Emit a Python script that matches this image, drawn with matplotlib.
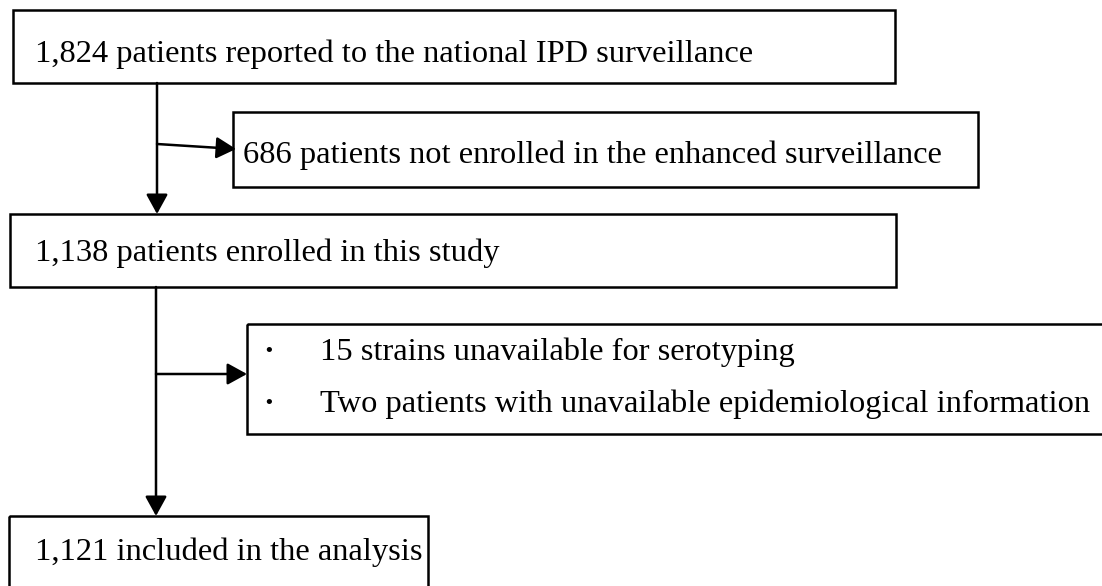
import matplotlib.pyplot as plt
from matplotlib.patches import Rectangle

# Flowchart labels
main_steps = ['1,824 patients reported to the national IPD surveillance',
              '1,138 patients enrolled in this study',
              '1,121 included in the analysis']
excluded_1 = '686 patients not enrolled in the enhanced surveillance'
excluded_2 = ['15 strains unavailable for serotyping',
              'Two patients with unavailable epidemiological information']

plt.rcParams['font.family'] = ['Liberation Serif', 'DejaVu Serif']

fig = plt.figure(figsize=(11.02, 5.86), dpi=100)
ax = fig.add_axes([0, 0, 1, 1])
ax.set_xlim(0, 1102)
ax.set_ylim(586, 0)
ax.axis('off')

lw = 1.8
fs = 23.4

def box(x0, y0, x1, y1):
    ax.add_patch(Rectangle((x0, y0), x1 - x0, y1 - y0, fill=False,
                           edgecolor='black', linewidth=lw, clip_on=False))

def arrow(x0, y0, x1, y1):
    ax.annotate('', xy=(x1, y1), xytext=(x0, y0),
                arrowprops=dict(arrowstyle='-|>,head_length=0.6,head_width=0.33',
                                mutation_scale=20, color='black', lw=lw,
                                shrinkA=0, shrinkB=0))

# boxes
box(13, 10, 895, 83)
box(233, 112, 978, 187)
box(10, 214, 896, 287)
box(247, 324, 1110, 434)
box(9, 516, 428, 600)

# connectors
arrow(157, 83, 157, 214)
arrow(157, 144, 236, 149)
arrow(156, 287, 156, 516)
arrow(156, 374, 247, 374)

# texts
ax.text(35, 62, main_steps[0], fontsize=fs, va='baseline')
ax.text(243, 163, excluded_1, fontsize=fs, va='baseline')
ax.text(35, 261, main_steps[1], fontsize=fs, va='baseline')
for i, t in enumerate(excluded_2):
    yb = 360 + i * 52
    ax.text(263, yb, '·', fontsize=fs, va='baseline', fontweight='bold')
    ax.text(320, yb, t, fontsize=fs, va='baseline')
ax.text(35, 560, main_steps[2], fontsize=fs, va='baseline')

fig.savefig('out.png', dpi=100)
